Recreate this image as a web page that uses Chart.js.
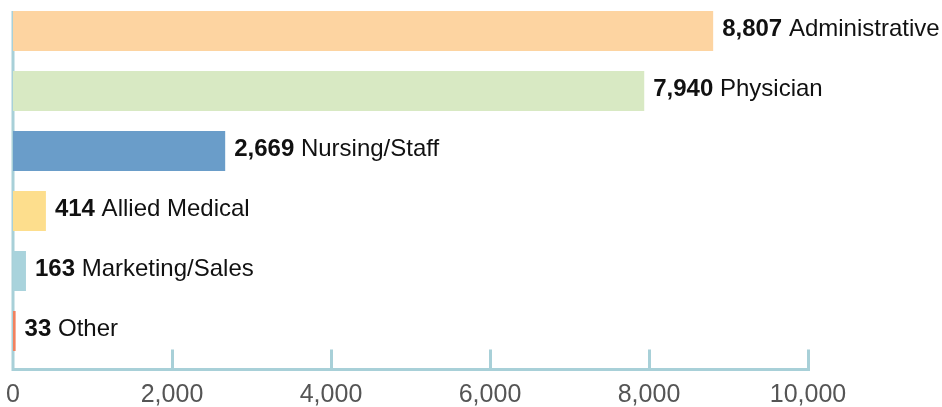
<!DOCTYPE html>
<html>
<head>
<meta charset="utf-8">
<script src="https://cdn.jsdelivr.net/npm/chart.js@4/dist/chart.umd.min.js"></script>
<style>
  html, body { margin: 0; padding: 0; background: #ffffff; }
  #wrap { width: 942px; height: 407px; position: relative; }
</style>
</head>
<body>
<div id="wrap"><canvas id="c" width="942" height="407"></canvas></div>
<script>
const categories = ["Administrative", "Physician", "Nursing/Staff", "Allied Medical", "Marketing/Sales", "Other"];
const values = [8807, 7940, 2669, 414, 163, 33];
const barColors = ["#FDD4A1", "#D8E9C3", "#6A9DC9", "#FDDE8D", "#A9D3DC", "#F2815F"];
const xTicks = [0, 2000, 4000, 6000, 8000, 10000];

const AXIS_COLOR = "#A8D0D8";
const FONT = "'Helvetica Neue', Helvetica, 'Liberation Sans', Arial, sans-serif";

const axisPlugin = {
  id: 'customAxis',
  beforeDatasetsDraw(chart) {
    const ctx = chart.ctx;
    const xs = chart.scales.x;
    const meta = chart.getDatasetMeta(0);
    const top = meta.data[0].y - meta.data[0].height / 2;
    const baseY = 369.5;
    const x0 = xs.getPixelForValue(0);
    ctx.save();
    ctx.strokeStyle = AXIS_COLOR;
    ctx.lineWidth = 3;
    ctx.lineCap = 'butt';
    ctx.beginPath();
    ctx.moveTo(x0, top);
    ctx.lineTo(x0, baseY + 1.5);
    ctx.moveTo(x0 - 1.5, baseY);
    ctx.lineTo(xs.getPixelForValue(xTicks[xTicks.length - 1]) + 2, baseY);
    for (let i = 1; i < xTicks.length; i++) {
      const px = xs.getPixelForValue(xTicks[i]) + 0.5;
      ctx.moveTo(px, baseY - 20);
      ctx.lineTo(px, baseY);
    }
    ctx.stroke();
    ctx.restore();
  }
};

const labelPlugin = {
  id: 'barLabels',
  afterDatasetsDraw(chart) {
    const ctx = chart.ctx;
    const meta = chart.getDatasetMeta(0);
    ctx.save();
    ctx.fillStyle = "#111111";
    ctx.textBaseline = 'alphabetic';
    ctx.textAlign = 'left';
    meta.data.forEach((bar, i) => {
      const valTxt = values[i].toLocaleString('en-US');
      const x = bar.x + 9;
      const y = bar.y + 4.5;
      ctx.font = "bold 24px " + FONT;
      ctx.fillText(valTxt, x, y);
      const w = ctx.measureText(valTxt + " ").width;
      ctx.font = "24px " + FONT;
      ctx.fillText(categories[i], x + w, y);
    });
    ctx.restore();
  }
};

new Chart(document.getElementById('c'), {
  type: 'bar',
  data: {
    labels: categories,
    datasets: [{
      data: values,
      backgroundColor: barColors,
      borderWidth: 0,
      categoryPercentage: 1.0,
      barPercentage: 40 / 60
    }]
  },
  options: {
    indexAxis: 'y',
    responsive: false,
    devicePixelRatio: 1,
    animation: false,
    layout: { padding: { left: 0, right: 134, top: 1, bottom: 0 } },
    plugins: {
      legend: { display: false },
      tooltip: { enabled: false }
    },
    scales: {
      x: {
        min: 0,
        max: 10000,
        afterFit(scale) { scale.height = 46; scale.paddingLeft = 13; },
        afterBuildTicks(scale) { scale.ticks = xTicks.map(v => ({ value: v })); },
        grid: { display: false, drawTicks: false },
        border: { display: false },
        ticks: {
          padding: 19,
          color: "#555555",
          font: { family: FONT, size: 25 },
          maxRotation: 0,
          autoSkip: false,
          callback: (v) => Number(v).toLocaleString('en-US')
        }
      },
      y: {
        display: false,
        grid: { display: false }
      }
    }
  },
  plugins: [axisPlugin, labelPlugin]
});
</script>
</body>
</html>
